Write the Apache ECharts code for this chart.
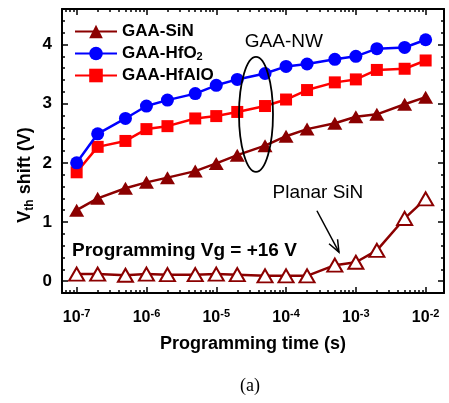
<!DOCTYPE html>
<html>
<head>
<meta charset="utf-8">
<script src="https://cdn.jsdelivr.net/npm/echarts@6/dist/echarts.min.js"></script>
<style>
  html, body { margin: 0; padding: 0; background: #fff; }
  #chart { width: 449px; height: 403px; }
</style>
</head>
<body>
<div id="chart"></div>
<script>
// Programming time (s)
const times = [1e-7, 2e-7, 5e-7, 1e-6, 2e-6, 5e-6, 1e-5, 2e-5, 5e-5, 1e-4, 2e-4, 5e-4, 1e-3, 2e-3, 5e-3, 1e-2];

// Vth shift (V) for each device
const gaaSiN    = [1.20, 1.40, 1.57, 1.67, 1.75, 1.86, 1.99, 2.13, 2.29, 2.45, 2.57, 2.67, 2.78, 2.82, 2.99, 3.11];
const gaaHfO2   = [2.00, 2.49, 2.75, 2.96, 3.06, 3.17, 3.31, 3.41, 3.51, 3.63, 3.67, 3.75, 3.80, 3.93, 3.95, 4.08];
const gaaHfAlO  = [1.84, 2.27, 2.37, 2.57, 2.62, 2.75, 2.79, 2.86, 2.96, 3.07, 3.23, 3.36, 3.41, 3.57, 3.59, 3.73];
const planarSiN = [0.12, 0.12, 0.10, 0.12, 0.11, 0.11, 0.12, 0.11, 0.09, 0.09, 0.09, 0.27, 0.32, 0.52, 1.06, 1.39];

// Axis ticks
const decadeTicks = [1e-7, 1e-6, 1e-5, 1e-4, 1e-3, 1e-2];
const yLabelTicks = [0, 1, 2, 3, 4];

const X_MIN = Math.pow(10, -7.21);
const X_MAX = Math.pow(10, -1.737);
const Y_MIN = -0.2, Y_MAX = 4.6;

// Minor log ticks (2..9 within each decade)
const minorTicks = [];
for (let e = -8; e <= -2; e++) {
  for (let k = 2; k <= 9; k++) {
    const v = k * Math.pow(10, e);
    if (v > X_MIN && v < X_MAX) minorTicks.push(v);
  }
}

const FONT = '"Liberation Sans", Arial, Helvetica, sans-serif';
const C_SIN = '#8b0000', C_HFO2 = '#0000ff', C_HFALO = '#ff0000';

const pair = vals => times.map((t, i) => [t, vals[i]]);

function xAxisDef(position, ticks, len, withLine, withLabels) {
  return {
    type: 'log', logBase: 10, min: X_MIN, max: X_MAX, position: position,
    axisLine: { show: withLine, onZero: false, lineStyle: { color: '#000', width: 2 } },
    axisTick: { show: true, inside: true, length: len, customValues: ticks, lineStyle: { color: '#000', width: 1.5 } },
    axisLabel: withLabels ? {
      show: true, customValues: decadeTicks, margin: 15,
      formatter: v => '{b|10}{s|' + Math.round(Math.log10(v)) + '}',
      rich: {
        b: { fontFamily: FONT, fontWeight: 'bold', fontSize: 16, color: '#000', lineHeight: 20 },
        s: { fontFamily: FONT, fontWeight: 'bold', fontSize: 11, color: '#000', verticalAlign: 'top', lineHeight: 14 }
      }
    } : { show: false },
    splitLine: { show: false }
  };
}

function yAxisDef(position, major, withLine, withLabels) {
  const a = {
    type: 'value', min: Y_MIN, max: Y_MAX, position: position,
    axisLine: { show: withLine, onZero: false, lineStyle: { color: '#000', width: 2 } },
    axisLabel: withLabels ? {
      show: true, customValues: yLabelTicks, margin: 10,
      fontFamily: FONT, fontWeight: 'bold', fontSize: 17, color: '#000'
    } : { show: false },
    splitLine: { show: false }
  };
  if (major) {
    a.axisTick = { show: true, inside: true, length: 6, customValues: yLabelTicks, lineStyle: { color: '#000', width: 1.5 } };
  } else {
    a.interval = 0.2;
    a.axisTick = { show: true, inside: true, length: 3, lineStyle: { color: '#000', width: 1.5 } };
  }
  return a;
}

const chart = echarts.init(document.getElementById('chart'), null, { renderer: 'canvas' });

const option = {
  animation: false,
  backgroundColor: '#fff',
  grid: { left: 62, right: 5, top: 9, bottom: 110, containLabel: false },
  xAxis: [
    Object.assign(xAxisDef('bottom', decadeTicks, 6, true, true), {
      name: 'Programming time (s)', nameLocation: 'middle', nameGap: 42,
      nameTextStyle: { fontFamily: FONT, fontWeight: 'bold', fontSize: 18, color: '#000' }
    }),
    xAxisDef('bottom', minorTicks, 3, false, false),
    xAxisDef('top', decadeTicks, 6, true, false),
    xAxisDef('top', minorTicks, 3, false, false)
  ],
  yAxis: [
    yAxisDef('left', true, true, true),
    yAxisDef('left', false, false, false),
    yAxisDef('right', true, true, false),
    yAxisDef('right', false, false, false)
  ],
  legend: {
    data: ['GAA-SiN', 'GAA-HfO2', 'GAA-HfAlO'],
    orient: 'vertical', left: 69, top: 18,
    itemWidth: 42, itemHeight: 17, itemGap: 5,
    formatter: name => name === 'GAA-HfO2' ? '{b|GAA-HfO}{s|2}' : '{b|' + name + '}',
    textStyle: {
      padding: 0,
      rich: {
        b: { fontFamily: FONT, fontWeight: 'bold', fontSize: 17, color: '#000', lineHeight: 17 },
        s: { fontFamily: FONT, fontWeight: 'bold', fontSize: 11, color: '#000', verticalAlign: 'bottom', lineHeight: 12 }
      }
    }
  },
  series: [
    {
      name: 'Planar SiN', type: 'line', data: pair(planarSiN),
      symbol: 'triangle', symbolSize: [15, 13],
      lineStyle: { color: C_SIN, width: 2.5 },
      itemStyle: { color: '#fff', borderColor: C_SIN, borderWidth: 2 },
      z: 2
    },
    {
      name: 'GAA-SiN', type: 'line', data: pair(gaaSiN),
      symbol: 'triangle', symbolSize: [15, 13],
      lineStyle: { color: C_SIN, width: 2.5 },
      itemStyle: { color: C_SIN, borderWidth: 0 },
      z: 3
    },
    {
      name: 'GAA-HfAlO', type: 'line', data: pair(gaaHfAlO),
      symbol: 'rect', symbolSize: 12,
      lineStyle: { color: C_HFALO, width: 2.5 },
      itemStyle: { color: C_HFALO, borderWidth: 0 },
      z: 4
    },
    {
      name: 'GAA-HfO2', type: 'line', data: pair(gaaHfO2),
      symbol: 'circle', symbolSize: 13,
      lineStyle: { color: C_HFO2, width: 2.5 },
      itemStyle: { color: C_HFO2, borderWidth: 0 },
      z: 5
    }
  ]
};

chart.setOption(option);

// Annotations anchored in data coordinates
const px = (x, y) => chart.convertToPixel({ xAxisIndex: 0, yAxisIndex: 0 }, [x, y]);

const ell = px(3.71e-5, 2.82);
const nwTxt = px(9.3e-5, 4.05);
const planarTxt = px(2.86e-4, 1.49);
const arrFrom = px(2.77e-4, 1.19);
const arrTo = px(5.73e-4, 0.49);
const vgTxt = px(8.57e-8, 0.51);

const ang = Math.atan2(arrTo[1] - arrFrom[1], arrTo[0] - arrFrom[0]);
const headLen = 13, headSpread = 0.38;
const h1 = [arrTo[0] - headLen * Math.cos(ang - headSpread), arrTo[1] - headLen * Math.sin(ang - headSpread)];
const h2 = [arrTo[0] - headLen * Math.cos(ang + headSpread), arrTo[1] - headLen * Math.sin(ang + headSpread)];

chart.setOption({
  graphic: [
    {
      type: 'ellipse', z: 10,
      shape: { cx: ell[0], cy: ell[1], rx: 17, ry: 57.5 },
      style: { fill: 'none', stroke: '#000', lineWidth: 1.8 }
    },
    {
      type: 'text', z: 10, x: nwTxt[0], y: nwTxt[1],
      style: { text: 'GAA-NW', fontFamily: FONT, fontSize: 19, fill: '#000', align: 'center', verticalAlign: 'middle' }
    },
    {
      type: 'text', z: 10, x: planarTxt[0], y: planarTxt[1],
      style: { text: 'Planar SiN', fontFamily: FONT, fontSize: 19, fill: '#000', align: 'center', verticalAlign: 'middle' }
    },
    {
      type: 'line', z: 10,
      shape: { x1: arrFrom[0], y1: arrFrom[1], x2: arrTo[0], y2: arrTo[1] },
      style: { stroke: '#000', lineWidth: 1.5 }
    },
    {
      type: 'polyline', z: 10,
      shape: { points: [h1, arrTo, h2] },
      style: { stroke: '#000', lineWidth: 1.5, fill: 'none' }
    },
    {
      type: 'text', z: 10, x: vgTxt[0], y: vgTxt[1],
      style: { text: 'Programming Vg = +16 V', fontFamily: FONT, fontWeight: 'bold', fontSize: 19, fill: '#000', align: 'left', verticalAlign: 'middle' }
    },
    {
      type: 'text', z: 10, x: 25, y: 175, rotation: Math.PI / 2,
      style: {
        text: '{b|V}{s|th}{b| shift (V)}', align: 'center', verticalAlign: 'middle',
        rich: {
          b: { fontFamily: FONT, fontWeight: 'bold', fontSize: 18, fill: '#000', lineHeight: 22 },
          s: { fontFamily: FONT, fontWeight: 'bold', fontSize: 12, fill: '#000', verticalAlign: 'bottom', lineHeight: 14 }
        }
      }
    },
    {
      type: 'text', z: 10, x: 250, y: 386,
      style: { text: '(a)', fontFamily: '"Liberation Serif", "Times New Roman", serif', fontSize: 18, fill: '#000', align: 'center', verticalAlign: 'middle' }
    }
  ]
});
</script>
</body>
</html>
